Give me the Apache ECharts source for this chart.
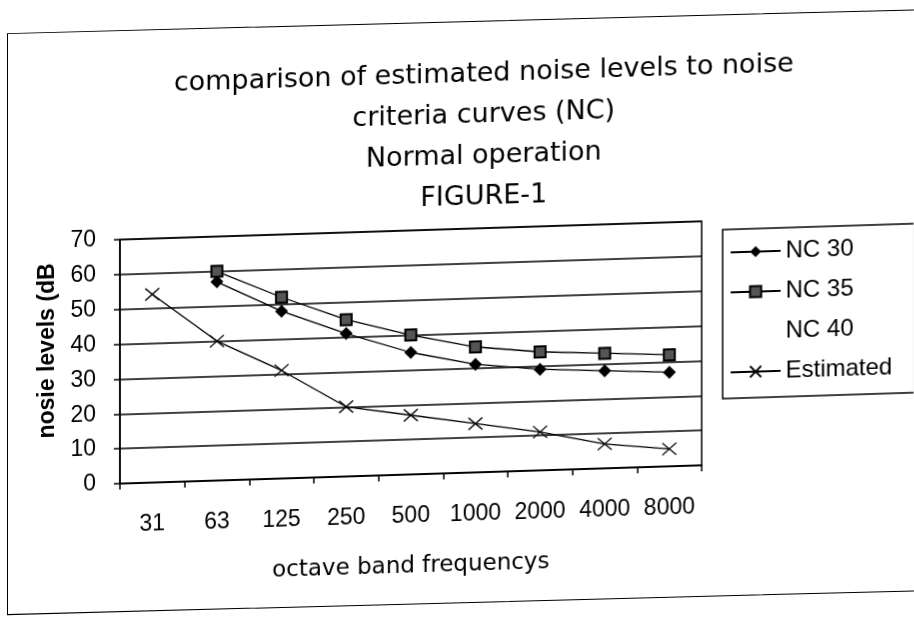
<!DOCTYPE html>
<html>
<head>
<meta charset="utf-8">
<script src="https://cdn.jsdelivr.net/npm/echarts@6/dist/echarts.min.js"></script>
<style>
  html, body { margin: 0; padding: 0; background: #fff; }
  #wrap { position: relative; width: 914px; height: 618px; transform: skewY(-1.8deg); transform-origin: 457px 309px; }
  #frame { position: absolute; left: 7px; top: 19px; width: 930px; height: 582px; border: 1.5px solid #000; box-sizing: border-box; transform: skewY(0.3deg); transform-origin: 0 0; }
  #chart { position: absolute; left: 0; top: 0; width: 914px; height: 618px; }
</style>
</head>
<body>
<div id="wrap">
  <div id="frame"></div>
  <div id="chart"></div>
</div>
<script>
const categories = ['31', '63', '125', '250', '500', '1000', '2000', '4000', '8000'];
const nc30 = [null, 57, 48, 41, 35, 31, 29, 28, 27];
const nc35 = [null, 60, 52, 45, 40, 36, 34, 33, 32];
const nc40 = [];
const estimated = [54, 40, 31, 20, 17, 14, 11, 7, 5];
const yTicks = [0, 10, 20, 30, 40, 50, 60, 70];

const chart = echarts.init(document.getElementById('chart'), null, { renderer: 'canvas' });
const lineBase = { type: 'line', lineStyle: { color: '#000', width: 1.3 }, itemStyle: { color: '#000' } };
chart.setOption({
  animation: false,
  backgroundColor: 'transparent',
  title: {
    text: 'comparison of estimated noise levels to noise\ncriteria curves (NC)\nNormal operation\nFIGURE-1',
    left: 479, top: 49, textAlign: 'center',
    textStyle: { fontFamily: 'DejaVu Sans', fontSize: 27, fontWeight: 'normal', color: '#000', lineHeight: 41 }
  },
  grid: { left: 120, right: 212, top: 229, bottom: 145, show: true, borderColor: '#000', borderWidth: 1.5, containLabel: false },
  legend: {
    orient: 'vertical', left: 723, top: 238,
    padding: [11, 22, 14, 7],
    itemWidth: 50, itemHeight: 14, itemGap: 16,
    borderColor: '#000', borderWidth: 1.5,
    textStyle: { fontFamily: 'Liberation Sans', fontSize: 24, color: '#000', lineHeight: 24 },
    data: [
      { name: 'NC 30' },
      { name: 'NC 35' },
      { name: 'NC 40', icon: 'none' },
      { name: 'Estimated' }
    ]
  },
  xAxis: {
    type: 'category', data: categories, boundaryGap: true,
    axisLine: { lineStyle: { color: '#000', width: 1.5 } },
    axisTick: { show: true, inside: false, length: 6, lineStyle: { color: '#000', width: 1.5 } },
    axisLabel: { color: '#000', fontFamily: 'Liberation Sans', fontSize: 23, margin: 30, interval: 0 },
    name: 'octave band frequencys', nameLocation: 'middle', nameGap: 81,
    nameTextStyle: { fontFamily: 'DejaVu Sans', fontSize: 23, color: '#000' }
  },
  yAxis: {
    type: 'value', min: yTicks[0], max: yTicks[yTicks.length - 1], interval: 10,
    axisLine: { show: true, lineStyle: { color: '#000', width: 1.5 } },
    axisTick: { show: true, inside: false, length: 6, lineStyle: { color: '#000', width: 1.5 } },
    axisLabel: { color: '#000', fontFamily: 'Liberation Sans', fontSize: 23, margin: 24 },
    splitLine: { show: true, lineStyle: { color: '#000', width: 1.5 } },
    name: 'nosie levels (dB', nameLocation: 'middle', nameGap: 56, nameRotate: 90,
    nameTextStyle: { fontFamily: 'Liberation Sans', fontSize: 23, fontWeight: 'bold', color: '#000', padding: [0, 0, 0, 26] }
  },
  series: [
    Object.assign({}, lineBase, { name: 'NC 30', data: nc30, symbol: 'diamond', symbolSize: 13 }),
    Object.assign({}, lineBase, { name: 'NC 35', data: nc35, symbol: 'rect', symbolSize: 11,
      itemStyle: { color: '#555', borderColor: '#000', borderWidth: 2 } }),
    { type: 'line', name: 'NC 40', data: nc40, symbol: 'none', lineStyle: { opacity: 0 }, itemStyle: { opacity: 0 } },
    Object.assign({}, lineBase, { name: 'Estimated', data: estimated,
      symbol: 'path://M0,0L10,10M10,0L0,10', symbolSize: [14, 12],
      itemStyle: { color: 'none', borderColor: '#000', borderWidth: 1.3 } })
  ]
});
</script>
</body>
</html>
